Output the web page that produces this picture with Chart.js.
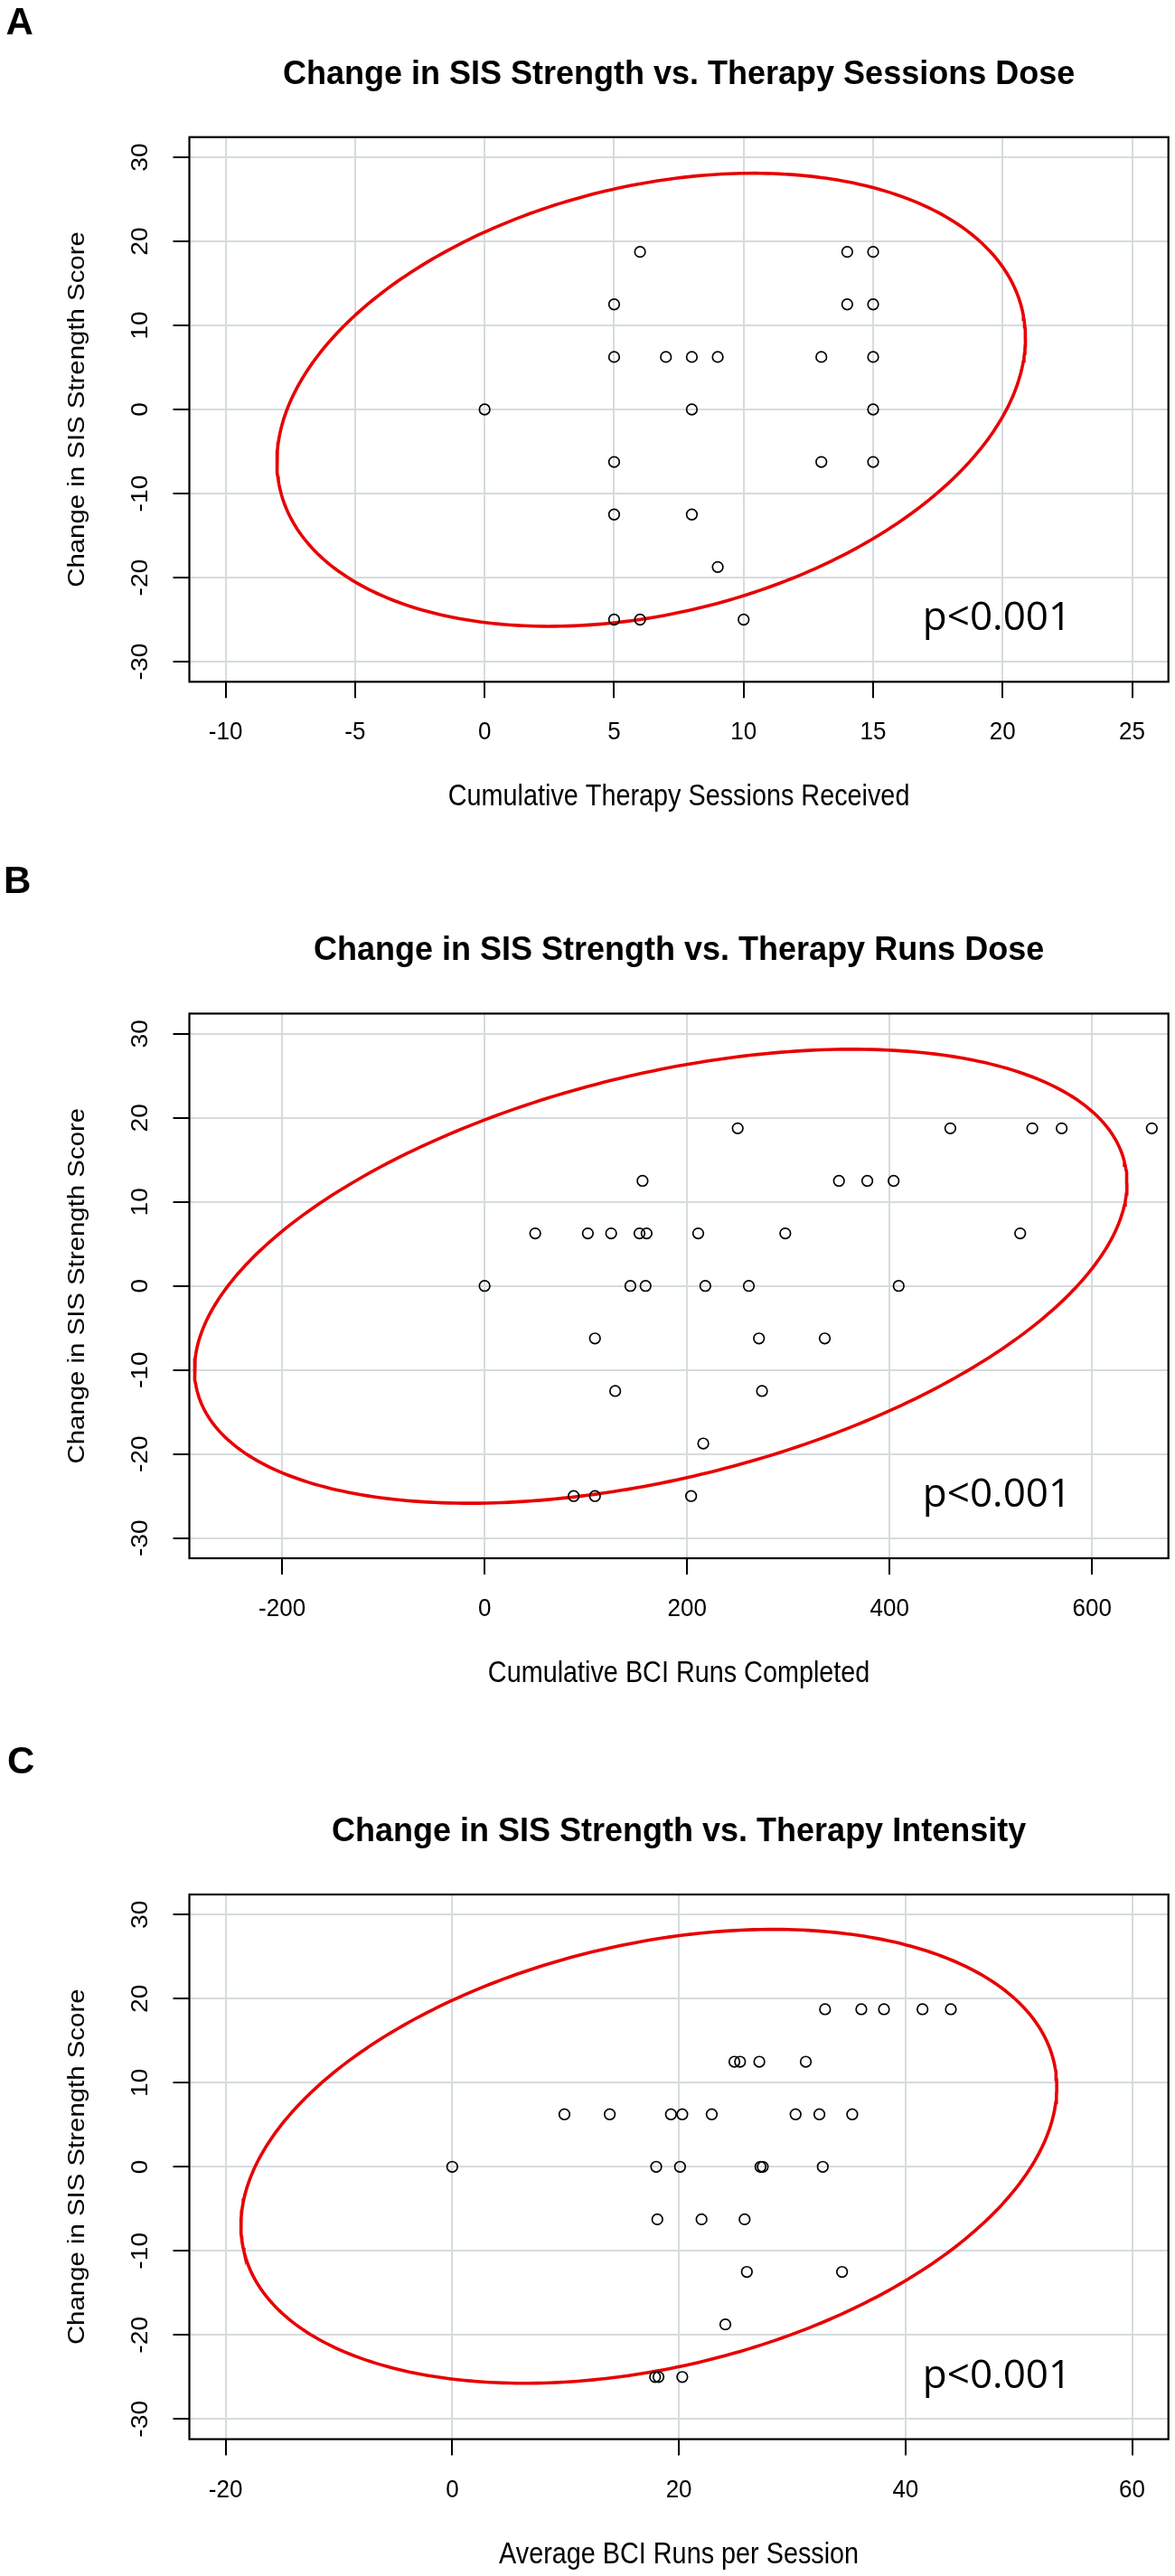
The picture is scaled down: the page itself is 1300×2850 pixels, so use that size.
<!DOCTYPE html>
<html>
<head>
<meta charset="utf-8">
<script src="https://cdn.jsdelivr.net/npm/chart.js@4.4.1/dist/chart.umd.min.js"></script>
<style>
  html, body { margin: 0; padding: 0; background: #ffffff; }
  #wrap { position: relative; width: 1300px; height: 2850px; overflow: hidden; background: #fff; }
  .panel { position: absolute; left: 0; width: 1300px; }
</style>
</head>
<body>
<div id="wrap">
  <div class="panel" id="pA"><canvas id="cA"></canvas></div>
  <div class="panel" id="pB"><canvas id="cB"></canvas></div>
  <div class="panel" id="pC"><canvas id="cC"></canvas></div>
</div>
<script>
// ---------------- DATA ----------------
const panelLetters = ['A', 'B', 'C'];
const chartTitles = [
  'Change in SIS Strength vs. Therapy Sessions Dose',
  'Change in SIS Strength vs. Therapy Runs Dose',
  'Change in SIS Strength vs. Therapy Intensity'
];
const xAxisTitles = [
  'Cumulative Therapy Sessions Received',
  'Cumulative BCI Runs Completed',
  'Average BCI Runs per Session'
];
const yAxisTitle = 'Change in SIS Strength Score';
const pValueLabel = 'p<0.001';

// tick values
const xTicksA = [-10, -5, 0, 5, 10, 15, 20, 25];
const xTicksB = [-200, 0, 200, 400, 600];
const xTicksC = [-20, 0, 20, 40, 60];
const yTicks = [-30, -20, -10, 0, 10, 20, 30];

// axis limits (R default 4% expansion of the plotted range)
const xLimitsA = [-11.4, 26.4];
const xLimitsB = [-291.6, 675.4];
const xLimitsC = [-23.2, 63.2];
const yLimits = [-32.4, 32.4];

// Panel A: cumulative therapy sessions vs change in SIS strength
const sessionsA = [0, 6, 14, 15, 5, 14, 15, 5, 7, 8, 9, 13, 15, 8, 15, 5, 13, 15, 5, 8, 9, 5, 6, 10];
const strengthA = [0, 18.75, 18.75, 18.75, 12.5, 12.5, 12.5, 6.25, 6.25, 6.25, 6.25, 6.25, 6.25, 0, 0,
                   -6.25, -6.25, -6.25, -12.5, -12.5, -18.75, -25, -25, -25];

// Panel B: cumulative BCI runs vs change in SIS strength
const runsB = [250, 460, 541, 570, 659,
               156, 350, 378, 404,
               50, 102, 125, 153, 160, 211, 297, 529,
               0, 144, 159, 218, 261, 409,
               109, 271, 336,
               129, 274,
               216,
               88, 109, 204];
const strengthB = [18.75, 18.75, 18.75, 18.75, 18.75,
                   12.5, 12.5, 12.5, 12.5,
                   6.25, 6.25, 6.25, 6.25, 6.25, 6.25, 6.25, 6.25,
                   0, 0, 0, 0, 0, 0,
                   -6.25, -6.25, -6.25,
                   -12.5, -12.5,
                   -18.75,
                   -25, -25, -25];

// Panel C: average BCI runs per session vs change in SIS strength
const intensityC = [32.9, 36.1, 38.1, 41.5, 44.0,
                    24.9, 25.4, 27.1, 31.2,
                    9.9, 13.9, 19.3, 20.3, 22.9, 30.3, 32.4, 35.3,
                    0, 18.0, 20.1, 27.2, 27.4, 32.7,
                    18.1, 22.0, 25.8,
                    26.0, 34.4,
                    24.1,
                    17.9, 18.2, 20.3];
const strengthC = [18.75, 18.75, 18.75, 18.75, 18.75,
                   12.5, 12.5, 12.5, 12.5,
                   6.25, 6.25, 6.25, 6.25, 6.25, 6.25, 6.25, 6.25,
                   0, 0, 0, 0, 0, 0,
                   -6.25, -6.25, -6.25,
                   -12.5, -12.5,
                   -18.75,
                   -25, -25, -25];

// data ellipses: [centre x, centre y, x half-width, y shear, y half-height]
const ellipseA = [6.43, 1.15, 14.45, 7.35, 25.93];
const ellipseB = [174, 1.15, 460.5, 11.1, 24.62];
const ellipseC = [17.35, 1.25, 36.0, 8.24, 25.71];

// ---------------- LAYOUT / STYLE ----------------
const FONT = '"Liberation Sans", Arial, Helvetica, sans-serif';
const PLOT_LEFT = 209.5, PLOT_RIGHT = 1292.7;
const layouts = [
  { top: 0,    height: 940, plotTop: 151.7, plotBottom: 754.3, letterX: 6.5, letterBase: 38 },
  { top: 940,  height: 974, plotTop: 181.4, plotBottom: 784.0, letterX: 4,   letterBase: 48 },
  { top: 1914, height: 936, plotTop: 182.0, plotBottom: 784.6, letterX: 8,   letterBase: 47.7 }
];

function ellipseOutline(e) {
  const [cx, cy, ax, b1, b2] = e;
  const pts = [];
  const n = 360;
  for (let i = 0; i <= n; i++) {
    const t = 2 * Math.PI * i / n;
    pts.push({ x: cx + ax * Math.cos(t), y: cy + b1 * Math.cos(t) + b2 * Math.sin(t) });
  }
  return pts;
}

function pairs(xs, ys) { return xs.map((v, i) => ({ x: v, y: ys[i] })); }

function drawText(ctx, s, x, y, font, align, k, rotated) {
  ctx.save();
  ctx.translate(x, y);
  ctx.scale(1, k);
  if (rotated) ctx.rotate(-Math.PI / 2);
  ctx.font = font;
  ctx.textAlign = align;
  ctx.textBaseline = 'alphabetic';
  ctx.fillStyle = '#000';
  ctx.fillText(s, 0, 0);
  ctx.restore();
}

function makePlugin(idx, xTicks) {
  return {
    id: 'rStyle' + idx,
    afterDraw(chart) {
      const ctx = chart.ctx;
      const a = chart.chartArea;
      const xs = chart.scales.x, ys = chart.scales.y;
      const L = layouts[idx];
      ctx.save();
      // plot box
      ctx.strokeStyle = '#000';
      ctx.lineWidth = 2.2;
      ctx.strokeRect(a.left, a.top, a.right - a.left, a.bottom - a.top);
      // x tick labels
      xTicks.forEach(v => drawText(ctx, String(v), xs.getPixelForValue(v), a.bottom + 64,
        '26px ' + FONT, 'center', 1.08, false));
      // y tick labels (rotated, R las=0)
      yTicks.forEach(v => drawText(ctx, String(v), 163, ys.getPixelForValue(v),
        '25px ' + FONT, 'center', 1.13, true));
      // axis titles
      drawText(ctx, xAxisTitles[idx], (a.left + a.right) / 2, a.bottom + 137,
        '28.8px ' + FONT, 'center', 1.13, false);
      drawText(ctx, yAxisTitle, 93, (a.top + a.bottom) / 2,
        '26px ' + FONT, 'center', 1.13, true);
      // main title
      drawText(ctx, chartTitles[idx], (a.left + a.right) / 2, a.top - 59,
        'bold 36px ' + FONT, 'center', 1, false);
      // panel letter
      drawText(ctx, panelLetters[idx], L.letterX, L.letterBase,
        'bold 42px ' + FONT, 'left', 1, false);
      // p-value annotation
      drawText(ctx, pValueLabel, 1103, a.bottom - 57,
        '44px "Open Sans", "Noto Sans", sans-serif', 'center', 1, false);
      ctx.restore();
    }
  };
}

function makeChart(idx, canvasId, panelId, xVals, yVals, xTicks, xLim, ellipse) {
  const L = layouts[idx];
  const panel = document.getElementById(panelId);
  panel.style.top = L.top + 'px';
  panel.style.height = L.height + 'px';
  const canvas = document.getElementById(canvasId);
  canvas.width = 1300;
  canvas.height = L.height;
  canvas.style.width = '1300px';
  canvas.style.height = L.height + 'px';

  const gridStyle = {
    display: true,
    drawOnChartArea: true,
    drawTicks: true,
    tickLength: 18,
    tickColor: '#000',
    tickWidth: 2,
    color: '#d5dbde',
    lineWidth: 2
  };

  return new Chart(canvas, {
    type: 'scatter',
    data: {
      datasets: [
        {
          label: 'patients',
          data: pairs(xVals, yVals),
          pointStyle: 'circle',
          pointRadius: 5.8,
          pointBorderWidth: 1.7,
          pointBorderColor: '#000',
          pointBackgroundColor: 'rgba(0,0,0,0)',
          order: 0
        },
        {
          label: 'ellipse',
          data: ellipseOutline(ellipse),
          showLine: true,
          borderColor: '#e80000',
          borderWidth: 3.6,
          pointRadius: 0,
          tension: 0,
          fill: false,
          order: 1
        }
      ]
    },
    options: {
      responsive: false,
      animation: false,
      events: [],
      layout: {
        autoPadding: false,
        padding: { left: 0, right: 1300 - PLOT_RIGHT, top: L.plotTop, bottom: 0 }
      },
      plugins: { legend: { display: false }, tooltip: { enabled: false }, title: { display: false } },
      scales: {
        x: {
          type: 'linear',
          min: xLim[0], max: xLim[1],
          afterBuildTicks: s => { s.ticks = xTicks.map(v => ({ value: v })); },
          afterFit: s => { s.height = L.height - L.plotBottom; },
          ticks: { display: false },
          grid: gridStyle,
          border: { display: false }
        },
        y: {
          type: 'linear',
          min: yLimits[0], max: yLimits[1],
          afterBuildTicks: s => { s.ticks = yTicks.map(v => ({ value: v })); },
          afterFit: s => { s.width = PLOT_LEFT; },
          ticks: { display: false },
          grid: gridStyle,
          border: { display: false }
        }
      }
    },
    plugins: [makePlugin(idx, xTicks)]
  });
}

makeChart(0, 'cA', 'pA', sessionsA, strengthA, xTicksA, xLimitsA, ellipseA);
makeChart(1, 'cB', 'pB', runsB, strengthB, xTicksB, xLimitsB, ellipseB);
makeChart(2, 'cC', 'pC', intensityC, strengthC, xTicksC, xLimitsC, ellipseC);
</script>
</body>
</html>
